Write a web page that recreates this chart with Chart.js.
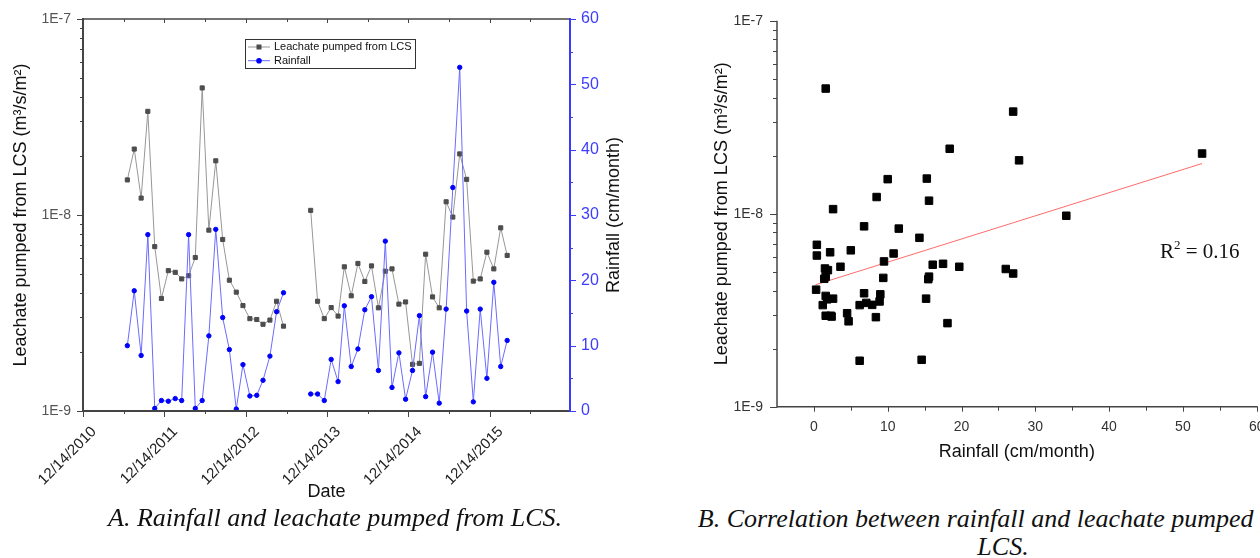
<!DOCTYPE html>
<html>
<head>
<meta charset="utf-8">
<title>Rainfall and leachate pumped from LCS</title>
<script src="https://cdn.jsdelivr.net/npm/chart.js@4.4.1/dist/chart.umd.min.js"></script>
<style>
    html, body { margin: 0; padding: 0; background: #fff; width: 1260px; height: 558px; overflow: hidden; }
    #chartA { position: absolute; left: 0; top: 0; }
    #chartB { position: absolute; left: 640px; top: 0; }
    .caption {
        position: absolute;
        font-family: "Liberation Serif", "Times New Roman", serif;
        font-style: italic;
        font-size: 26px;
        line-height: 28px;
        color: #111;
        text-align: center;
        white-space: nowrap;
    }
    #capA { left: 35px; width: 600px; top: 504px; }
    #capB { left: 653px; width: 700px; top: 505px; }
</style>
</head>
<body>
<canvas id="chartA" width="640" height="505"></canvas>
<canvas id="chartB" width="640" height="470"></canvas>
<div class="caption" id="capA">A. Rainfall and leachate pumped from LCS.</div>
<div class="caption" id="capB">B. Correlation between rainfall and leachate pumped from<br>LCS.</div>

<script>
// monthly records, Jul 2011 - Mar 2016 (no data Jul-Sep 2013)
const months = [
    '2011-07', '2011-08', '2011-09', '2011-10', '2011-11', '2011-12',
    '2012-01', '2012-02', '2012-03', '2012-04', '2012-05', '2012-06',
    '2012-07', '2012-08', '2012-09', '2012-10', '2012-11', '2012-12',
    '2013-01', '2013-02', '2013-03', '2013-04', '2013-05', '2013-06',
    '2013-07', '2013-08', '2013-09', '2013-10', '2013-11', '2013-12',
    '2014-01', '2014-02', '2014-03', '2014-04', '2014-05', '2014-06',
    '2014-07', '2014-08', '2014-09', '2014-10', '2014-11', '2014-12',
    '2015-01', '2015-02', '2015-03', '2015-04', '2015-05', '2015-06',
    '2015-07', '2015-08', '2015-09', '2015-10', '2015-11', '2015-12',
    '2016-01', '2016-02', '2016-03'
];

// leachate pumped from LCS, m3/s/m2
const leachate = [
    1.51e-8, 2.17e-8, 1.22e-8, 3.38e-8, 6.9e-9, 3.75e-9,
    5.2e-9, 5.1e-9, 4.72e-9, 4.9e-9, 6.07e-9, 4.45e-8,
    8.37e-9, 1.89e-8, 7.5e-9, 4.65e-9, 4.04e-9, 3.45e-9,
    2.96e-9, 2.93e-9, 2.77e-9, 2.91e-9, 3.63e-9, 2.71e-9,
    null, null, null, 1.056e-8, 3.63e-9, 2.96e-9,
    3.37e-9, 3.05e-9, 5.44e-9, 3.87e-9, 5.66e-9, 4.58e-9,
    5.5e-9, 3.36e-9, 5.17e-9, 5.31e-9, 3.51e-9, 3.6e-9,
    1.73e-9, 1.75e-9, 6.31e-9, 3.82e-9, 3.36e-9, 1.168e-8,
    9.76e-9, 2.05e-8, 1.52e-8, 4.6e-9, 4.72e-9, 6.46e-9,
    5.31e-9, 8.6e-9, 6.22e-9
];

// rainfall, cm/month
const rainfall = [
    10.0, 18.4, 8.5, 27.0, 0.4, 1.6,
    1.5, 1.9, 1.6, 27.0, 0.4, 1.6,
    11.5, 27.8, 14.3, 9.4, 0.3, 7.1,
    2.3, 2.4, 4.7, 8.4, 15.2, 18.1,
    null, null, null, 2.6, 2.6, 1.6,
    7.9, 4.5, 16.1, 6.8, 9.5, 15.5,
    17.5, 6.2, 26.0, 3.6, 8.9, 1.8,
    6.2, 14.6, 2.2, 9.0, 1.2, 15.6,
    34.2, 52.6, 15.3, 1.4, 15.6, 5.0,
    19.7, 6.8, 10.8
];

const dateTicks = ['12/14/2010', '12/14/2011', '12/14/2012', '12/14/2013', '12/14/2014', '12/14/2015'];
const dateAxisEnd = '12/08/2016';
const rainTicks = [0, 10, 20, 30, 40, 50, 60];
const fluxTicks = [1e-9, 1e-8, 1e-7];
const corrRainTicks = [0, 10, 20, 30, 40, 50, 60];

// fitted line
const trendRain = [0.2, 52.6];
const trendFlux = [4.28e-9, 1.82e-8];
const rSquared = '0.16';

const SANS = '"Liberation Sans", Arial, sans-serif';
const SERIF = '"Liberation Serif", "Times New Roman", serif';
Chart.defaults.font.family = SANS;

const YEAR_MS = 365.25 * 86400000;
const ORIGIN = Date.UTC(2010, 11, 14);

function yearsFrom(y, m, d) {
    return (Date.UTC(y, m - 1, d) - ORIGIN) / YEAR_MS;
}
function monthToX(s) {
    const p = s.split('-').map(Number);
    return yearsFrom(p[0], p[1], 1);
}
function tickToX(s) {
    const p = s.split('/').map(Number);
    return yearsFrom(p[2], p[0], p[1]);
}
function expLabel(v) {
    return '1E' + Math.round(Math.log10(v));
}
function logMinors(min, max) {
    const out = [];
    for (let e = Math.round(Math.log10(min)); e < Math.round(Math.log10(max)); e++) {
        for (let k = 2; k <= 9; k++) out.push(k * Math.pow(10, e));
    }
    return out;
}

function drawTicks(ctx, scale, values, edge, dir, len) {
    ctx.beginPath();
    values.forEach(v => {
        const p = Math.round(scale.getPixelForValue(v)) + 0.5;
        if (scale.isHorizontal()) {
            ctx.moveTo(p, edge);
            ctx.lineTo(p, edge + dir * len);
        } else {
            ctx.moveTo(edge, p);
            ctx.lineTo(edge + dir * len, p);
        }
    });
    ctx.stroke();
}
function line(ctx, x1, y1, x2, y2) {
    ctx.beginPath();
    ctx.moveTo(x1, y1);
    ctx.lineTo(x2, y2);
    ctx.stroke();
}

// ---------- panel A ----------
const axesA = {
    id: 'axesA',
    afterDraw(chart) {
        const ctx = chart.ctx, a = chart.chartArea;
        const sx = chart.scales.x, sy = chart.scales.y, sr = chart.scales.y2;
        const majX = sx.ticks.map(t => t.value);
        const minX = majX.map(v => v + 0.5).filter(v => v < sx.max);
        ctx.save();
        ctx.strokeStyle = '#444';
        ctx.lineWidth = 1;
        drawTicks(ctx, sx, majX, a.bottom, 1, 6);
        drawTicks(ctx, sx, minX, a.bottom, 1, 3);
        drawTicks(ctx, sx, majX, a.top, 1, 4);
        drawTicks(ctx, sx, minX, a.top, 1, 3);
        drawTicks(ctx, sy, fluxTicks, a.left, -1, 6);
        drawTicks(ctx, sy, logMinors(sy.min, sy.max), a.left, -1, 3);
        ctx.lineWidth = 2;
        line(ctx, a.left, a.top - 1, a.left, a.bottom + 1);
        line(ctx, a.left, a.bottom, a.right, a.bottom);
        ctx.lineWidth = 1.5;
        line(ctx, a.left, a.top, a.right, a.top);

        ctx.strokeStyle = '#3a3aff';
        ctx.lineWidth = 2;
        line(ctx, a.right, a.top - 1, a.right, a.bottom + 1);
        ctx.lineWidth = 1;
        drawTicks(ctx, sr, rainTicks, a.right, 1, 6);
        drawTicks(ctx, sr, rainTicks.slice(0, -1).map(v => v + 5), a.right, 1, 3);

        // right axis title reads bottom to top
        ctx.save();
        ctx.translate(a.right + 44, (a.top + a.bottom) / 2);
        ctx.rotate(-Math.PI / 2);
        ctx.font = '18px ' + SANS;
        ctx.fillStyle = '#111';
        ctx.textAlign = 'center';
        ctx.textBaseline = 'middle';
        ctx.fillText('Rainfall (cm/month)', 0, 0);
        ctx.restore();

        // legend
        const lx = 245, ly = 39, lw = 170, lh = 29;
        ctx.fillStyle = '#fff';
        ctx.fillRect(lx, ly, lw, lh);
        ctx.strokeStyle = '#333';
        ctx.strokeRect(lx + 0.5, ly + 0.5, lw, lh);
        ctx.font = '11px ' + SANS;
        ctx.textBaseline = 'middle';
        chart.data.datasets.forEach((ds, i) => {
            const y = ly + 8 + i * 13.7;
            ctx.strokeStyle = ds.borderColor;
            ctx.lineWidth = 1;
            line(ctx, lx + 3, y, lx + 25, y);
            ctx.fillStyle = ds.pointBackgroundColor;
            if (ds.pointStyle === 'rect') {
                ctx.fillRect(lx + 11.5, y - 2.5, 5, 5);
            } else {
                ctx.beginPath();
                ctx.arc(lx + 14, y, 2.8, 0, Math.PI * 2);
                ctx.fill();
            }
            ctx.fillStyle = '#111';
            ctx.fillText(ds.label, lx + 29, y);
        });
        ctx.restore();
    }
};

new Chart(document.getElementById('chartA'), {
    type: 'line',
    data: {
        datasets: [{
            label: 'Leachate pumped from LCS',
            data: months.map((m, i) => ({ x: monthToX(m), y: leachate[i] })),
            yAxisID: 'y',
            borderColor: '#979797',
            borderWidth: 1,
            pointStyle: 'rect',
            pointRadius: 2.9,
            pointBackgroundColor: '#4d4d4d',
            pointBorderColor: '#4d4d4d',
            pointBorderWidth: 1,
            spanGaps: false,
            order: 2
        }, {
            label: 'Rainfall',
            data: months.map((m, i) => ({ x: monthToX(m), y: rainfall[i] })),
            yAxisID: 'y2',
            borderColor: '#6b6bff',
            borderWidth: 1,
            pointStyle: 'circle',
            pointRadius: 2.2,
            pointBackgroundColor: '#0000ff',
            pointBorderColor: '#0000ff',
            pointBorderWidth: 1,
            spanGaps: false,
            order: 1
        }]
    },
    options: {
        responsive: false,
        animation: false,
        layout: { padding: { top: 19, left: 0, right: 0, bottom: 0 } },
        plugins: { legend: { display: false }, tooltip: { enabled: false } },
        scales: {
            x: {
                type: 'linear',
                min: 0,
                max: tickToX(dateAxisEnd),
                afterBuildTicks: s => { s.ticks = dateTicks.map(t => ({ value: tickToX(t) })); },
                afterFit: s => { s.height = 94; },
                grid: { display: false, drawTicks: true, tickLength: 6 },
                border: { display: false },
                ticks: {
                    autoSkip: false, minRotation: 45, maxRotation: 45, padding: 6, labelOffset: 11,
                    color: '#222', font: { size: 15 },
                    callback: (v, i) => dateTicks[i]
                },
                title: { display: true, text: 'Date', color: '#111', font: { size: 18 }, padding: { top: 0, bottom: 2 } }
            },
            y: {
                type: 'logarithmic',
                position: 'left',
                min: 1e-9,
                max: 1e-7,
                afterBuildTicks: s => { s.ticks = fluxTicks.map(v => ({ value: v })); },
                afterFit: s => { s.width = 83; },
                grid: { display: false, drawTicks: true, tickLength: 6 },
                border: { display: false },
                ticks: { padding: 6, color: '#555', font: { size: 14 }, callback: v => expLabel(v) },
                title: { display: true, text: 'Leachate pumped from LCS (m³/s/m²)', color: '#111', font: { size: 18 }, padding: { top: 10, bottom: 0 } }
            },
            y2: {
                type: 'linear',
                position: 'right',
                min: 0,
                max: 60,
                afterBuildTicks: s => { s.ticks = rainTicks.map(v => ({ value: v })); },
                afterFit: s => { s.width = 70; },
                grid: { display: false, drawTicks: true, tickLength: 6 },
                border: { display: false },
                ticks: { padding: 5, color: '#3d3dff', font: { size: 16 } }
            }
        }
    },
    plugins: [axesA]
});

// ---------- panel B ----------
const axesB = {
    id: 'axesB',
    afterDraw(chart) {
        const ctx = chart.ctx, a = chart.chartArea;
        const sx = chart.scales.x, sy = chart.scales.y;
        ctx.save();
        ctx.strokeStyle = '#444';
        ctx.lineWidth = 1;
        drawTicks(ctx, sy, fluxTicks, a.left, -1, 7);
        drawTicks(ctx, sy, logMinors(sy.min, sy.max), a.left, -1, 4);
        drawTicks(ctx, sx, corrRainTicks, a.bottom, 1, 5);
        drawTicks(ctx, sx, corrRainTicks.slice(0, -1).map(v => v + 5), a.bottom, 1, 4);
        ctx.lineWidth = 1.5;
        line(ctx, a.left, a.top, a.left, a.bottom + 0.75);
        line(ctx, a.left, a.bottom, a.right + 1, a.bottom);

        // R² annotation
        let x = a.left + 383;
        const y = 252;
        ctx.fillStyle = '#111';
        ctx.textBaseline = 'middle';
        ctx.font = '21px ' + SERIF;
        ctx.fillText('R', x, y);
        x += ctx.measureText('R').width;
        ctx.font = '13px ' + SERIF;
        ctx.fillText('2', x, y - 6);
        x += ctx.measureText('2').width;
        ctx.font = '21px ' + SERIF;
        ctx.fillText(' = ' + rSquared, x, y);
        ctx.restore();
    }
};

const pairs = months
    .map((m, i) => ({ x: rainfall[i], y: leachate[i] }))
    .filter(p => p.x !== null && p.y !== null);

new Chart(document.getElementById('chartB'), {
    type: 'scatter',
    data: {
        datasets: [{
            label: 'Fit',
            data: trendRain.map((r, i) => ({ x: r, y: trendFlux[i] })),
            showLine: true,
            borderColor: '#ff6b6b',
            borderWidth: 1,
            pointRadius: 0,
            order: 2
        }, {
            label: 'Leachate pumped from LCS',
            data: pairs,
            pointStyle: 'rect',
            pointRadius: 5.3,
            backgroundColor: '#000',
            borderColor: '#000',
            borderWidth: 1,
            order: 1
        }]
    },
    options: {
        responsive: false,
        animation: false,
        layout: { padding: { top: 20.7, left: 0, right: 23.3, bottom: 0 } },
        plugins: { legend: { display: false }, tooltip: { enabled: false } },
        scales: {
            x: {
                type: 'linear',
                min: -5,
                max: 60,
                afterBuildTicks: s => { s.ticks = corrRainTicks.map(v => ({ value: v })); },
                afterFit: s => { s.height = 63.3; },
                grid: { display: false, drawTicks: true, tickLength: 5 },
                border: { display: false },
                ticks: { padding: 7, color: '#333', font: { size: 14 } },
                title: { display: true, text: 'Rainfall (cm/month)', color: '#111', font: { size: 18 }, padding: { top: 0, bottom: 7 } }
            },
            y: {
                type: 'logarithmic',
                min: 1e-9,
                max: 1e-7,
                afterBuildTicks: s => { s.ticks = fluxTicks.map(v => ({ value: v })); },
                afterFit: s => { s.width = 137; },
                grid: { display: false, drawTicks: true, tickLength: 7 },
                border: { display: false },
                ticks: { padding: 7, color: '#333', font: { size: 14 }, callback: v => expLabel(v) },
                title: { display: true, text: 'Leachate pumped from LCS (m³/s/m²)', color: '#111', font: { size: 18 }, padding: { top: 71, bottom: 0 } }
            }
        }
    },
    plugins: [axesB]
});
</script>
</body>
</html>
